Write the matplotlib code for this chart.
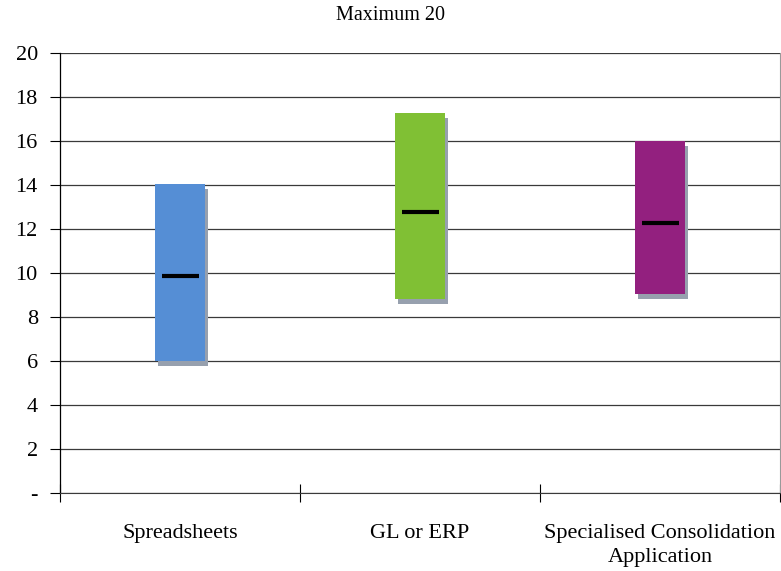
import matplotlib
matplotlib.use("Agg")
import matplotlib.pyplot as plt
import matplotlib.patheffects as pe

plt.rcParams['font.family'] = ['Liberation Serif', 'DejaVu Serif']

categories = ["Spreadsheets", "GL or ERP", "Specialised Consolidation\nApplication"]
low_values = [6.0, 8.8, 9.05]
high_values = [14.05, 17.27, 16.0]
median_values = [9.85, 12.77, 12.29]
bar_colors = ["#558ED5", "#80C034", "#93207F"]
y_ticks = [0, 2, 4, 6, 8, 10, 12, 14, 16, 18, 20]
y_tick_labels = ["-"] + [str(v) for v in y_ticks[1:]]

fig = plt.figure(figsize=(7.81, 5.71), dpi=100)
ax = fig.add_axes([60 / 781, 78 / 571, 720 / 781, 440 / 571])

x = list(range(len(categories)))
bars = ax.bar(x, [h - l for h, l in zip(high_values, low_values)], bottom=low_values,
              width=0.21, color=bar_colors, zorder=3)
for b in bars:
    b.set_path_effects([pe.SimplePatchShadow(offset=(2.2, -3.6), shadow_rgbFace="#97A0AE", alpha=1.0),
                        pe.Normal()])

ax.hlines(median_values, [i - 0.075 for i in x], [i + 0.08 for i in x],
          colors="black", linewidth=3.0, zorder=4)

ax.set_xlim(-0.5, len(categories) - 0.5)
ax.set_ylim(0, 20)
ax.set_yticks(y_ticks)
ax.set_yticklabels(y_tick_labels, fontsize=16)
ax.yaxis.grid(True, color="#3a3a3a", linewidth=0.9, zorder=0)
ax.set_axisbelow(True)

ax.set_xticks(x)
ax.set_xticklabels(categories, fontsize=16, linespacing=1.4)
ax.set_xticks([-0.5, 0.5, 1.5, 2.5], minor=True)
ax.tick_params(axis="x", which="major", length=0, pad=22)
ax.tick_params(axis="x", which="minor", direction="inout", length=13, width=0.8)
ax.tick_params(axis="y", direction="out", length=7, width=0.8, pad=9)

ax.spines["top"].set_visible(False)
ax.spines["right"].set_color("#9a9a9a")
ax.spines["right"].set_linewidth(0.8)
ax.spines["left"].set_linewidth(0.9)
ax.spines["bottom"].set_color("#3a3a3a")

fig.text(390 / 781, 1 - 16 / 571, "Maximum 20", ha="center", va="center", fontsize=14.5)

fig.savefig("out.png", dpi=100)
